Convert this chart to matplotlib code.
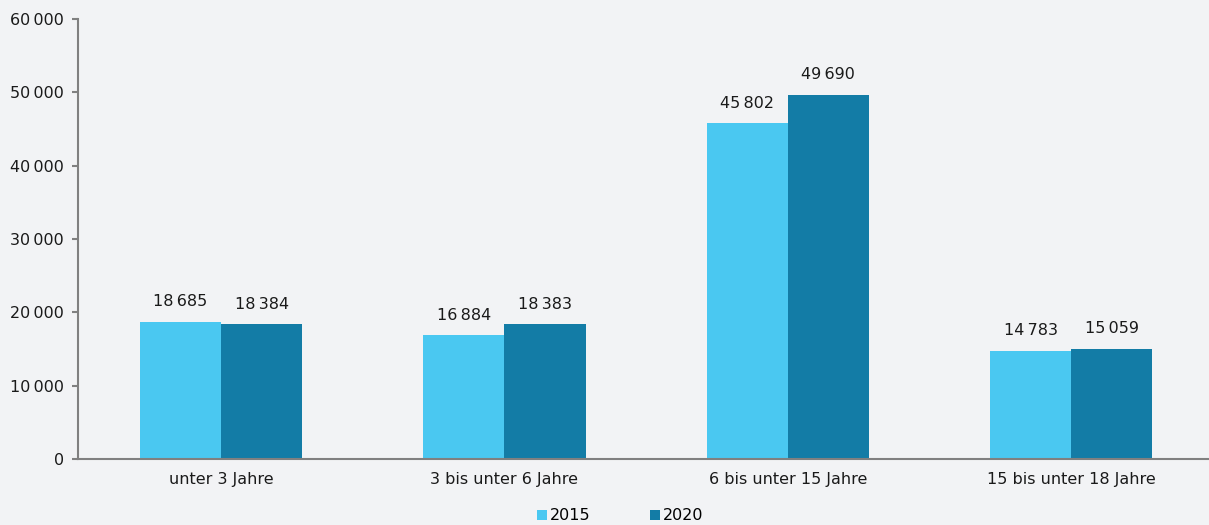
import matplotlib.pyplot as plt
import numpy as np

categories = ["unter 3 Jahre", "3 bis unter 6 Jahre", "6 bis unter 15 Jahre", "15 bis unter 18 Jahre"]
values_2015 = [18685, 16884, 45802, 14783]
values_2020 = [18384, 18383, 49690, 15059]
series_names = ["2015", "2020"]
y_ticks = [0, 10000, 20000, 30000, 40000, 50000, 60000]

BG = "#f2f3f5"
COLORS = ["#4ac8f1", "#137ca6"]
AXIS_GREY = "#808080"


def fmt(v: int) -> str:
    return f"{v:,}".replace(",", "\u2009")


def main() -> None:
    plt.rcParams["font.family"] = ["DejaVu Sans"]
    fig = plt.figure(figsize=(12.09, 5.25), dpi=100, facecolor=BG)
    ax = fig.add_axes([0.0645, 0.1257, 0.9355, 0.8381], facecolor=BG)

    x = np.arange(len(categories))
    width = 0.286
    for i, (vals, name) in enumerate(zip([values_2015, values_2020], series_names)):
        b = ax.bar(x + (i - 0.5) * width, vals, width, color=COLORS[i], label=name, zorder=2)
        for rect, v in zip(b, vals):
            ax.annotate(fmt(v), (rect.get_x() + rect.get_width() / 2, rect.get_height()),
                        xytext=(0, 9), textcoords="offset points", ha="center", va="bottom",
                        fontsize=11.5, color="#1a1a1a")

    ax.set_xlim(-0.505, 3.486)
    ax.set_ylim(0, 60000)
    ax.set_yticks(y_ticks)
    ax.set_yticklabels([fmt(t) for t in y_ticks])
    ax.set_xticks(x)
    ax.set_xticklabels(categories)

    for side in ["top", "right"]:
        ax.spines[side].set_visible(False)
    for side in ["left", "bottom"]:
        ax.spines[side].set_color(AXIS_GREY)
        ax.spines[side].set_linewidth(1.5)

    ax.tick_params(axis="y", length=4, width=1.5, color=AXIS_GREY, labelsize=11.5,
                   labelcolor="#1a1a1a", pad=6)
    ax.tick_params(axis="x", length=0, labelsize=11.5, labelcolor="#1a1a1a", pad=9)

    fig.legend(loc="lower center", bbox_to_anchor=(0.513, -0.024), ncol=2, frameon=False,
               fontsize=11.5, handlelength=0.6, handleheight=0.6, handletextpad=0.2,
               columnspacing=3.75)

    fig.savefig("out.png", dpi=100, facecolor=BG)


if __name__ == "__main__":
    main()
